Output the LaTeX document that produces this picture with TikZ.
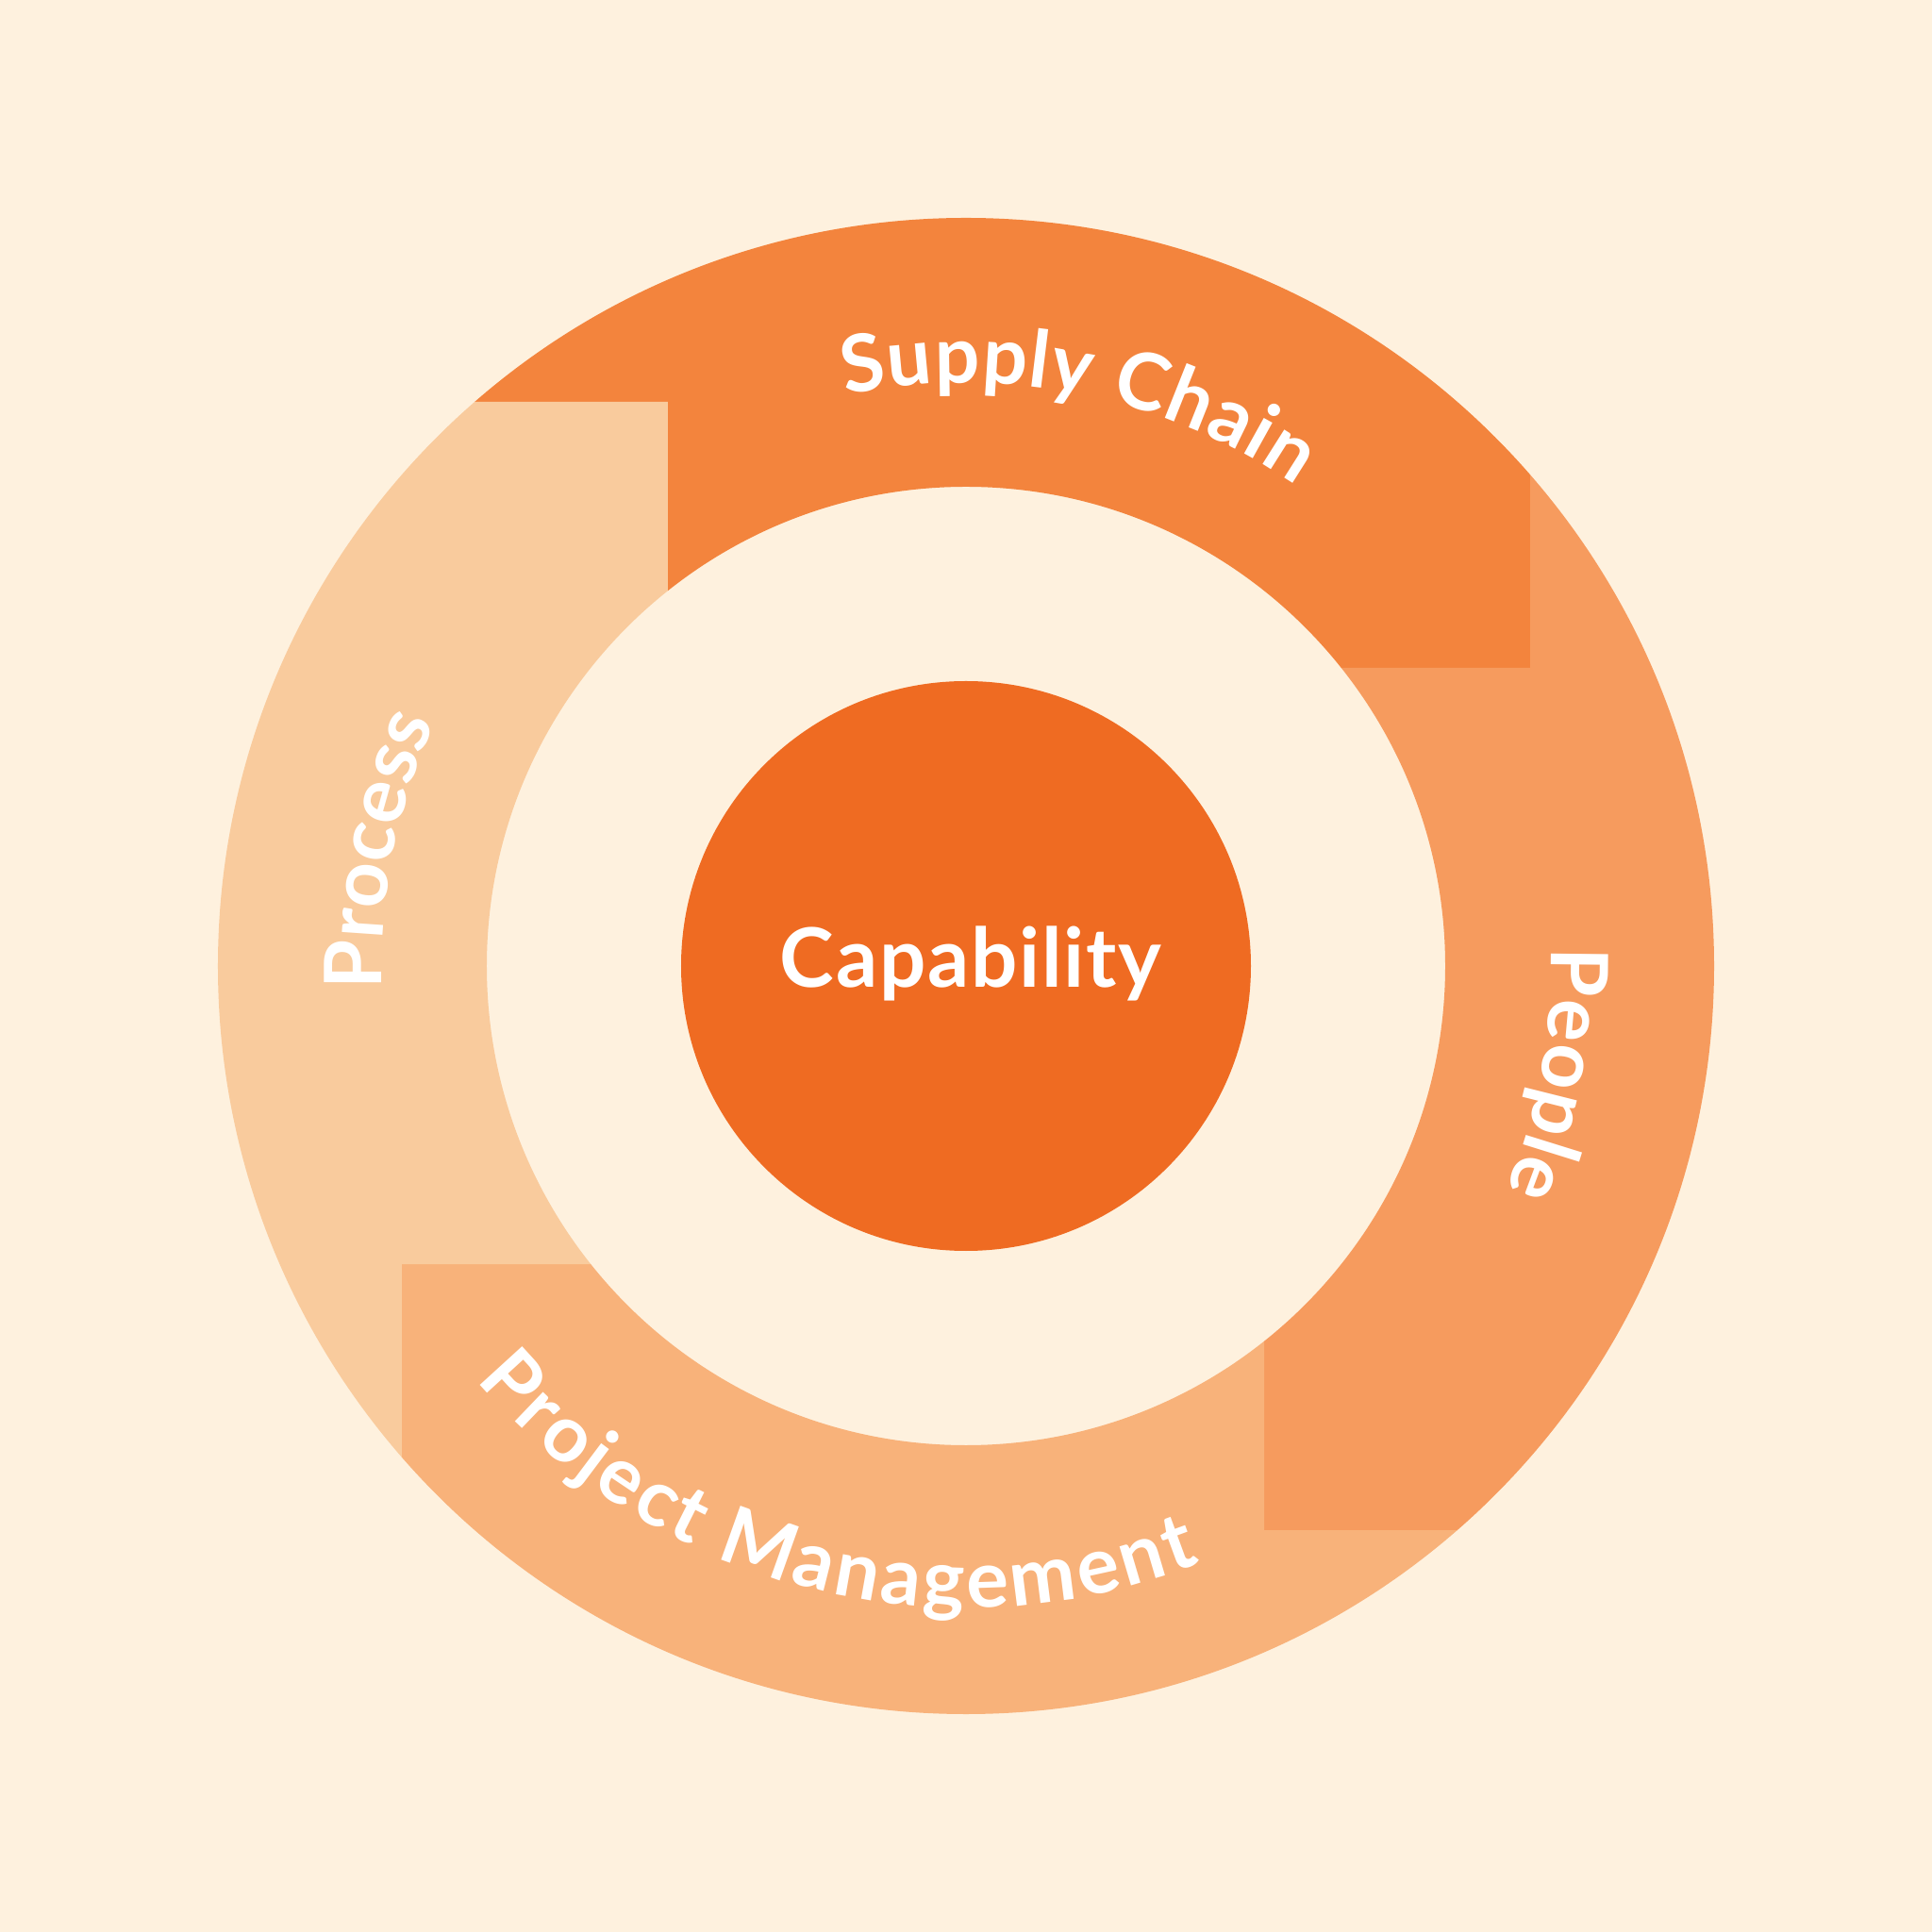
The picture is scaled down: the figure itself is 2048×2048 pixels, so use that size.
\documentclass[tikz,border=0pt]{standalone}
\usepackage{fontspec}
\setmainfont{Lato}
\usetikzlibrary{decorations.text}
\definecolor{bgcream}{HTML}{FEF1DE}
\definecolor{segsupply}{HTML}{F3843D}
\definecolor{segpeople}{HTML}{F69B5E}
\definecolor{segproject}{HTML}{F8B27A}
\definecolor{segprocess}{HTML}{F9CB9D}
\definecolor{corecol}{HTML}{EF6B22}
\newcommand\ringlabelfont{\fontsize{42}{50}\selectfont\bfseries\color{white}}
\newcommand\ringsegment[2]{%
  \begin{scope}[rotate=#2]
    \clip (-316,0) -- (-316,598) -- (-1100,598) -- (-1100,1100) -- (598,1100) -- (598,316) -- (0,316) -- cycle;
    \fill[#1, even odd rule] (0,0) circle[radius=793] (0,0) circle[radius=508];
  \end{scope}}
\tikzset{
  arclabel/.style={decorate, decoration={text along path, text={|\ringlabelfont|#1}, text align={fit to path}}},
  corelabel/.style={font=\fontsize{43.5}{52}\selectfont\bfseries\addfontfeatures{LetterSpace=2}, text=white, anchor=base, inner sep=0pt}
}
\begin{document}
\begin{tikzpicture}[x=0.5pt,y=0.5pt]
  \useasboundingbox[fill=bgcream] (-1024,-1024) rectangle (1024,1024);
  % ring segments
  \ringsegment{segsupply}{0}
  \ringsegment{segpeople}{-90}
  \ringsegment{segproject}{-180}
  \ringsegment{segprocess}{90}
  % centre
  \node[circle, fill=corecol, minimum size=302pt, inner sep=0pt] (core) at (0,0) {};
  \node[corelabel] (caplabel) at (5,-23) {Capability};
  % curved labels
  \path[arclabel={Supply Chain}] (101.9:618) arc[start angle=101.9, end angle=55.5, radius=618];
  \path[arclabel={People}] (1.8:620) arc[start angle=1.8, end angle=-22.5, radius=620];
  \path[arclabel={Project Management}] (-139.8:680) arc[start angle=-139.8, end angle=-68.6, radius=680];
  \path[arclabel={Process}] (182.3:619) arc[start angle=182.3, end angle=155.7, radius=619];
\end{tikzpicture}
\end{document}
